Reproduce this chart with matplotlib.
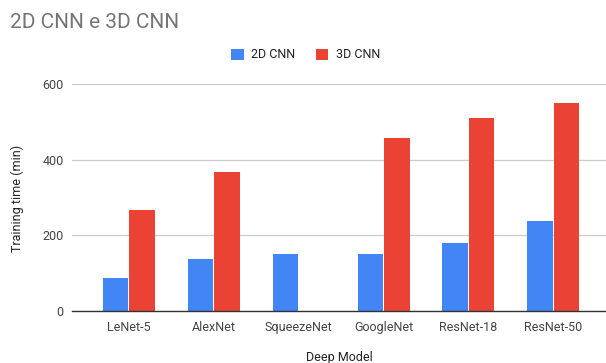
import matplotlib.pyplot as plt
import numpy as np

plt.rcParams['font.family'] = ['Roboto', 'DejaVu Sans']

models = ['LeNet-5', 'AlexNet', 'SqueezeNet', 'GoogleNet', 'ResNet-18', 'ResNet-50']
cnn_2d = [88, 138, 150, 150, 179, 238]
cnn_3d = [266, 368, 0, 458, 510, 549]

blue = '#4285F4'
red = '#EA4335'

fig = plt.figure(figsize=(6.06, 3.63), dpi=100)
ax = fig.add_axes([72/606, 1 - 311/363, (606-72)/606, (311-84)/363])

x = np.arange(len(models))
w = 0.30
ax.bar(x - w/2 - 0.006, cnn_2d, w, color=blue, label='2D CNN', zorder=3)
ax.bar(x + w/2 + 0.006, cnn_3d, w, color=red, label='3D CNN', zorder=3)

ax.set_xlim(-0.67, 5.62)
ax.set_ylim(0, 600)
ax.set_yticks([0, 200, 400, 600])
ax.set_xticks(x)
ax.set_xticklabels(models)
ax.tick_params(axis='both', length=0, labelsize=9, colors='#444444', pad=6)
ax.tick_params(axis='x', pad=7)
ax.grid(axis='y', color='#cccccc', linewidth=0.9, zorder=0)
for s in ['top', 'right', 'left']:
    ax.spines[s].set_visible(False)
ax.spines['bottom'].set_color('#333333')
ax.spines['bottom'].set_linewidth(1.0)
ax.spines['bottom'].set_zorder(4)

fig.text(10/606, 1 - 22/363, '2D CNN e 3D CNN', fontsize=15, color='#757575', va='center', ha='left')
fig.text(17/606, 1 - 198/363, 'Training time (min)', fontsize=9, color='#222222', rotation=90, va='center', ha='center')
fig.text(339/606, 1 - 357/363, 'Deep Model', fontsize=9, color='#222222', va='center', ha='center')

ax.legend(loc='center', bbox_to_anchor=(0.4376, 1 + 29/227), ncol=2, frameon=False,
          fontsize=9, handlelength=1.0, handleheight=1.0, handletextpad=0.6, columnspacing=1.6,
          labelcolor='#222222')

fig.savefig('out.png', dpi=100)
